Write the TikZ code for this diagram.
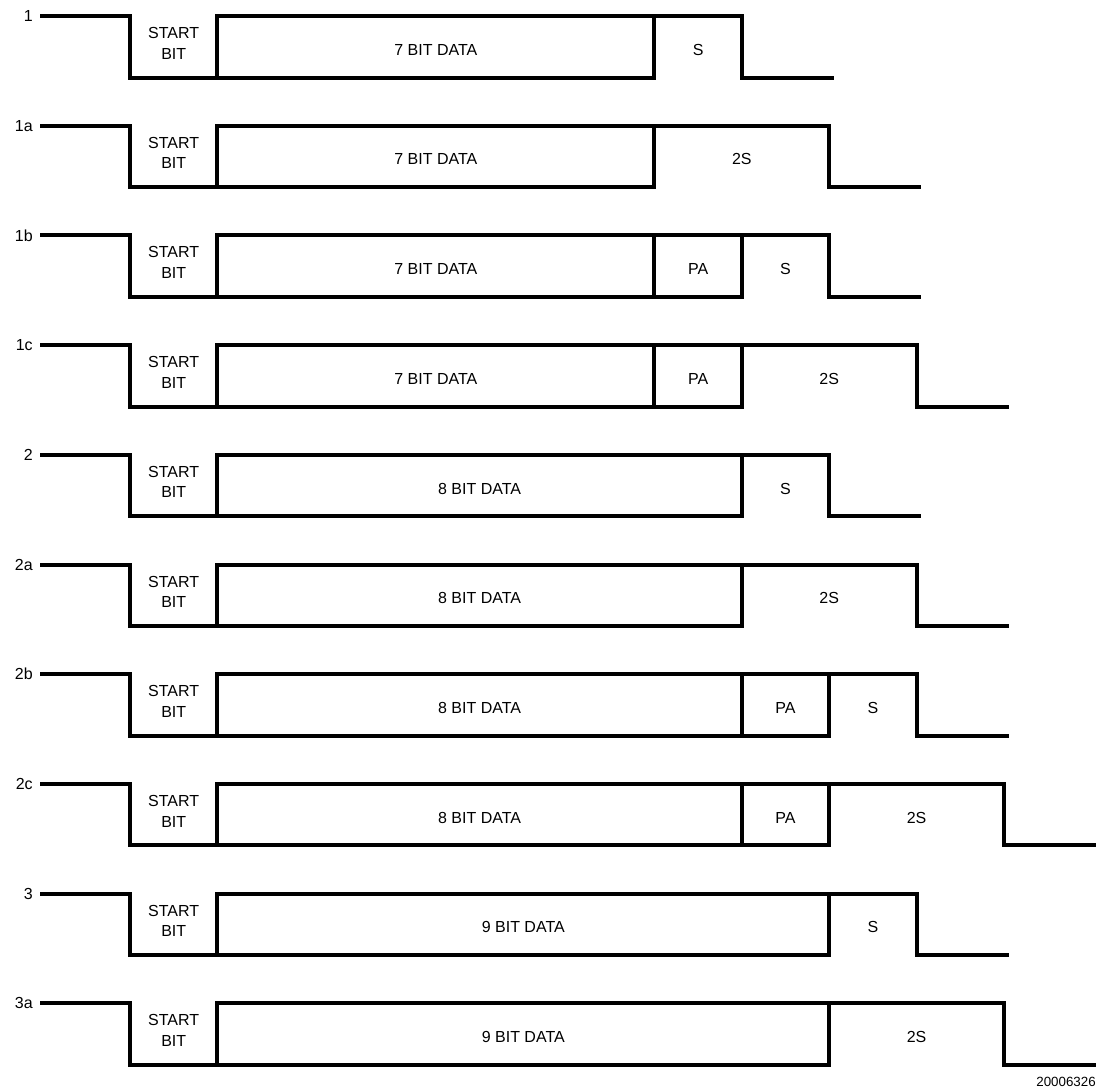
\documentclass[tikz,border=0pt]{standalone}
\usepackage{fontspec}
\setmainfont{Liberation Sans}
\usetikzlibrary{calc}

\begin{document}
\begin{tikzpicture}[
    x=0.75pt, y=-0.75pt,
    % --- STYLES ---
    wave/.style={
            line width=3pt,
            line join=miter,
            line cap=butt
        },
    lbl/.style={
            font=\fontsize{12}{15.5}\selectfont,
            align=center,
            inner sep=0pt
        },
    rowlbl/.style={
            font=\fontsize{12}{14}\selectfont,
            anchor=east,
            inner sep=0pt
        }
    ]
    \useasboundingbox (0,0) rectangle (1097,1089);
    \def\bitw{87.4}

    % --- FRAMES ---
    % row / name / data bits-2 / parity / stop bits / stop text
    \foreach \row/\rname/\nd/\npa/\ns/\stxt in {
            0/1/5/0/1/S, 1/1a/5/0/2/2S, 2/1b/5/1/1/S, 3/1c/5/1/2/2S,
            4/2/6/0/1/S, 5/2a/6/0/2/2S, 6/2b/6/1/1/S, 7/2c/6/1/2/2S,
            8/3/7/0/1/S, 9/3a/7/0/2/2S}{
        \pgfmathsetmacro\hy{16+109.7*\row}
        \pgfmathsetmacro\ly{\hy+61.5}
        \pgfmathsetmacro\my{(\hy+\ly)/2}
        \pgfmathsetmacro\xa{130}
        \pgfmathsetmacro\xb{\xa+\bitw}
        \pgfmathsetmacro\xc{\xb+\nd*\bitw}
        \pgfmathsetmacro\xd{\xc+\npa*\bitw}
        \pgfmathsetmacro\xe{\xd+\ns*\bitw}
        \pgfmathsetmacro\xf{\xe+92}
        \pgfmathtruncatemacro\bits{\nd+2}

        % waveform
        \draw[wave] (40,\hy) -- (\xa,\hy) -- (\xa,\ly) -- (\xb,\ly) -- (\xb,\hy)
        -- (\xe,\hy) -- (\xe,\ly) -- (\xf,\ly);
        \draw[wave] (\xb,\ly) -- (\xd,\ly) -- (\xd,\hy);
        \draw[wave] (\xc,\hy) -- (\xc,\ly);

        % labels
        \node[rowlbl] (name\row) at (33,\hy) {\rname};
        \node[lbl] (start\row) at ({(\xa+\xb)/2},\my-3.5) {START\\BIT};
        \node[lbl] (data\row) at ({(\xb+\xc)/2},\my+3) {\bits{} BIT DATA};
        \ifnum\npa=1
            \node[lbl] (par\row) at ({(\xc+\xd)/2},\my+3) {PA};
        \fi
        \node[lbl] (stop\row) at ({(\xd+\xe)/2},\my+3) {\stxt};
    }

    % --- FIGURE NUMBER ---
    \node[anchor=east, inner sep=0pt, font=\fontsize{10}{12}\selectfont] (fignum) at (1096,1082) {20006326};

\end{tikzpicture}
\end{document}
